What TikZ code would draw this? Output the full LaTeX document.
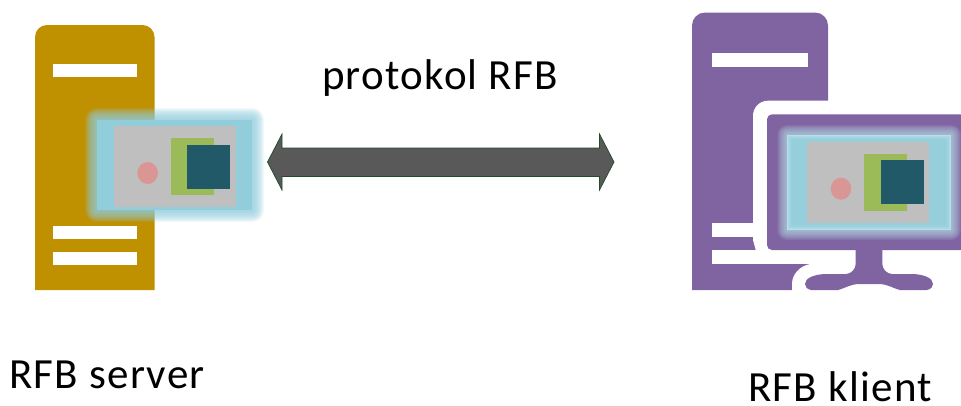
\documentclass[tikz,border=0pt]{standalone}
\usepackage{fontspec}
\setmainfont{Carlito}
\newfontfamily\lblfont[LetterSpace=3]{Carlito}
\definecolor{gold}{HTML}{BF9000}
\definecolor{violet}{HTML}{8064A2}
\definecolor{glowblue}{HTML}{92CDDC}
\definecolor{rimblue}{HTML}{B7DFE7}
\definecolor{panel}{HTML}{BFBFBF}
\definecolor{leaf}{HTML}{9BBB59}
\definecolor{deep}{HTML}{215968}
\definecolor{rose}{HTML}{D99694}
\definecolor{shaft}{HTML}{595959}
\definecolor{rimgreen}{HTML}{1E4D2B}
\tikzset{
  bar/.style={fill=white,draw=none},
  label/.style={inner sep=0pt,anchor=base,font=\lblfont\fontsize{43}{45}\selectfont},
  panelbox/.style={fill=panel,draw=none},
  leafbox/.style={fill=leaf,draw=none},
  deepbox/.style={fill=deep,draw=none},
  dot/.style={fill=rose,draw=none},
  glowlayer/.style={fill=glowblue,draw=none,fill opacity=0.13},
  monitorglow/.style={fill=rimblue,draw=none,fill opacity=0.11},
  innerglow/.style={fill=glowblue,draw=none,fill opacity=0.3}
}
\begin{document}
\begin{tikzpicture}[x=1pt,y=-1pt]
\useasboundingbox (0,0) rectangle (961,405);
% server tower
\fill[gold] (35,290) [rounded corners=12pt] -- (35,25) -- (154.5,25) [sharp corners] -- (154.5,290) -- cycle;
\fill[bar] (52.5,64) rectangle (136.5,77);
\fill[bar] (52.5,226) rectangle (136.5,239);
\fill[bar] (52.5,252) rectangle (136.5,265);
% server screen
\foreach \d in {12,11,10,9,8,7,6,5,4,3,2,1}{
  \fill[glowlayer,rounded corners=\d pt] (97-\d,120-\d) rectangle (252+\d,210+\d);
}
\fill[glowblue] (97,120) rectangle (252,210);
\fill[panelbox] (113.7,126) rectangle (235.7,206.7);
\fill[leafbox] (171,138) rectangle (214,195);
\fill[deepbox] (187,145) rectangle (230,189);
\fill[dot] (147.7,173) ellipse[x radius=10.3,y radius=11];
% arrow
\path[fill=shaft,draw=rimgreen,line width=0.7pt,line join=miter]
  (267.5,162) -- (282,134) -- (282,148) -- (599.5,148) -- (599.5,134) -- (614,162)
  -- (599.5,190) -- (599.5,176.5) -- (282,176.5) -- (282,190) -- cycle;
% client tower
\fill[violet] (692,290) [rounded corners=13pt] -- (692,12.5) -- (828,12.5) [sharp corners] -- (828,290) -- cycle;
\fill[bar] (712,53) rectangle (808,67);
\fill[bar] (712,222.7) rectangle (760,236.7);
\fill[bar] (712,250) rectangle (812,264);
% white halo around monitor and stand
\fill[white] (961,100.7) [rounded corners=15pt] -- (753,100.7) [sharp corners] -- (753,240) -- (756,251) -- (810,251) -- (810,264)
  .. controls (800,266) and (792,274) .. (792,284) -- (792,291) -- (961,291) -- cycle;
% monitor
\fill[violet] (961,114.3) [rounded corners=5pt] -- (767,114.3) -- (767,250) [sharp corners] -- (961,250) -- cycle;
\begin{scope}
\clip (767,114.3) rectangle (961,250);
\foreach \d in {10,9,8,7,6,5,4,3,2,1}{
  \fill[monitorglow,rounded corners=\d pt] (787.3-\d,135-\d) rectangle (951+\d,230+\d);
}
\end{scope}
\fill[rimblue] (787.3,135) rectangle (951,230);
\foreach \d in {1,2,3,4,5}{
  \fill[innerglow] (787.3+\d,135+\d) rectangle (951-\d,230-\d);
}
\fill[panelbox] (807,142) rectangle (929,223);
\fill[leafbox] (864,154) rectangle (907,211);
\fill[deepbox] (881,160) rectangle (924,204);
\fill[dot] (841,188.7) ellipse[x radius=10.3,y radius=11];
% stand and base
\fill[violet] (855.7,249) -- (855.7,264) .. controls (855.7,269) and (851,274) .. (846,274)
  -- (825,274) .. controls (814,274.5) and (805,278) .. (805,284)
  .. controls (805,287) and (807,289) .. (811,290)
  -- (838,290) .. controls (846,288) and (850,284) .. (860,284)
  -- (878,284) .. controls (888,284) and (892,288) .. (900,290)
  -- (927,290) .. controls (931,289) and (933,287) .. (933,284)
  .. controls (933,278) and (924,274.5) .. (913,274)
  -- (892,274) .. controls (887,274) and (882.3,269) .. (882.3,264)
  -- (882.3,249) -- cycle;
% labels
\node[label] (proto) at (440,89) {protokol RFB};
\node[label] (srv) at (107,388) {RFB server};
\node[label] (cli) at (840,401.5) {RFB klient};
\end{tikzpicture}
\end{document}
